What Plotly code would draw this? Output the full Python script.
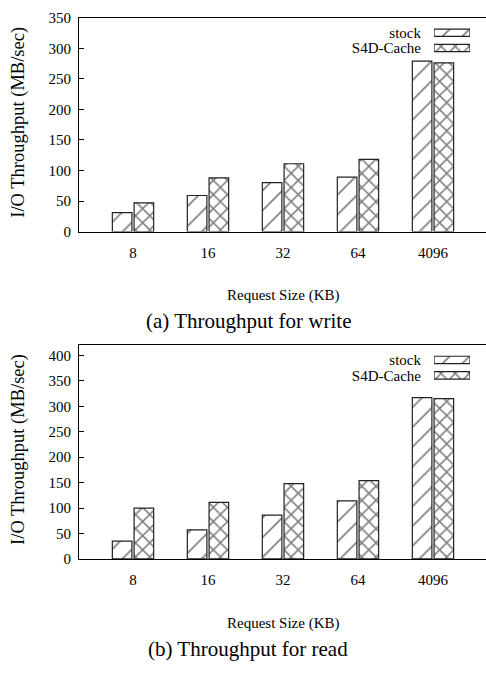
import plotly.graph_objects as go

# ---------------- data ----------------
categories = ["8", "16", "32", "64", "4096"]
series_names = ["stock", "S4D-Cache"]
write_stock = [31, 59, 80, 89, 279]
write_s4d = [47, 88, 111, 118, 276]
read_stock = [35, 57, 86, 114, 317]
read_s4d = [100, 111, 148, 154, 315]
write_yticks = [0, 50, 100, 150, 200, 250, 300, 350]
read_yticks = [0, 50, 100, 150, 200, 250, 300, 350, 400]
x_title = "Request Size (KB)"
y_title = "I/O Throughput (MB/sec)"
captions = ["(a) Throughput for write", "(b) Throughput for read"]

# ---------------- styling ----------------
W, H = 486, 673
FONT = "Liberation Serif"
LINE = "#222222"


def fx(px):
    return px / W


def fy(py):
    return 1 - py / H


patterns = [
    dict(shape="/", size=14, solidity=0.12, fgcolor="black", bgcolor="white"),
    dict(shape="x", size=10, solidity=0.28, fgcolor="black", bgcolor="white"),
]

fig = go.Figure()

panels = [
    dict(vals=[write_stock, write_s4d], ticks=write_yticks, rng=[0, 350],
         top=10, bottom=229, leg_top=17.5, leg_bot=48.8),
    dict(vals=[read_stock, read_s4d], ticks=read_yticks, rng=[0, 421],
         top=345, bottom=564.3, leg_top=352.6, leg_bot=384.2),
]

x_dom = [fx(79), 1.0]
layout_axes = {}
annotations = []

for i, p in enumerate(panels):
    xa = "x" if i == 0 else "x2"
    ya = "y" if i == 0 else "y2"
    xl = "xaxis" if i == 0 else "xaxis2"
    yl = "yaxis" if i == 0 else "yaxis2"
    # main bars
    for name, vals, pat in zip(series_names, p["vals"], patterns):
        fig.add_trace(go.Bar(
            x=categories, y=vals, name=name, xaxis=xa, yaxis=ya,
            marker=dict(color="white", pattern=pat,
                        line=dict(color=LINE, width=1.2)),
            showlegend=False,
        ))
    layout_axes[xl] = dict(
        domain=x_dom, anchor=ya, type="category",
        range=[-0.72, 4.707], showline=True, mirror=True,
        linecolor="black", linewidth=1.2, ticks="", showgrid=False,
        tickfont=dict(family=FONT, size=15, color="black"),
        ticklabelstandoff=7, fixedrange=True,
    )
    layout_axes[yl] = dict(
        domain=[fy(p["bottom"]), fy(p["top"])], anchor=xa,
        range=p["rng"], tickvals=p["ticks"], ticks="inside", ticklen=5,
        tickcolor="black", showline=True, linecolor="black", linewidth=1.2,
        showgrid=False, zeroline=False, ticklabeloverflow="allow",
        tickfont=dict(family=FONT, size=15, color="black"),
        ticklabelstandoff=4,
    )
    # right-side mirrored ticks (frame edge lies outside the picture)
    rid = 5 + i
    layout_axes[f"yaxis{rid}"] = dict(
        overlaying=ya, anchor=xa, side="right", range=p["rng"],
        tickvals=p["ticks"], ticks="inside", ticklen=5, tickcolor="black",
        showticklabels=False, showline=False, showgrid=False, zeroline=False,
    )
    # legend key on its own small axes
    lx = 3 + i
    for name, pat in zip(series_names, patterns):
        fig.add_trace(go.Bar(
            x=[1], y=[name], orientation="h", width=0.48, offset=-0.24,
            xaxis=f"x{lx}", yaxis=f"y{lx}",
            marker=dict(color="white", pattern=pat,
                        line=dict(color=LINE, width=1.2)),
            showlegend=False,
        ))
    layout_axes[f"xaxis{lx}"] = dict(
        domain=[fx(434), fx(470)], anchor=f"y{lx}", range=[0, 1],
        visible=False, fixedrange=True,
    )
    layout_axes[f"yaxis{lx}"] = dict(
        domain=[fy(p["leg_bot"]), fy(p["leg_top"])], anchor=f"x{lx}",
        type="category", categoryorder="array",
        categoryarray=list(reversed(series_names)), range=[-0.5, 1.5],
        tickmode="array", tickvals=series_names, ticktext=series_names,
        showline=False, ticks="", showgrid=False, zeroline=False,
        tickfont=dict(family=FONT, size=15, color="black"),
        ticklabelstandoff=12,
    )
    # titles and caption
    ctr = (p["top"] + p["bottom"]) / 2
    annotations.append(dict(
        text=y_title, xref="paper", yref="paper", x=fx(19), y=fy(ctr - 2),
        xanchor="center", yanchor="middle", textangle=-90, showarrow=False,
        font=dict(family=FONT, size=18.5, color="black"),
    ))
    annotations.append(dict(
        text=x_title, xref="paper", yref="paper", x=fx(283),
        y=fy(p["bottom"] + 66), xanchor="center", yanchor="middle",
        showarrow=False, font=dict(family=FONT, size=15, color="black"),
    ))
    annotations.append(dict(
        text=captions[i], xref="paper", yref="paper", x=fx(248),
        y=fy(p["bottom"] + 92), xanchor="center", yanchor="middle",
        showarrow=False, font=dict(family=FONT, size=21, color="black"),
    ))

fig.update_layout(
    width=W, height=H, margin=dict(l=0, r=0, t=0, b=0),
    paper_bgcolor="white", plot_bgcolor="white",
    barmode="group", bargap=0.42, bargroupgap=0.1,
    showlegend=False, annotations=annotations,
    **layout_axes,
)

fig.write_html(
    "out.html",
    config=dict(displayModeBar=False),
    post_script="document.body.style.margin='0';",
)
